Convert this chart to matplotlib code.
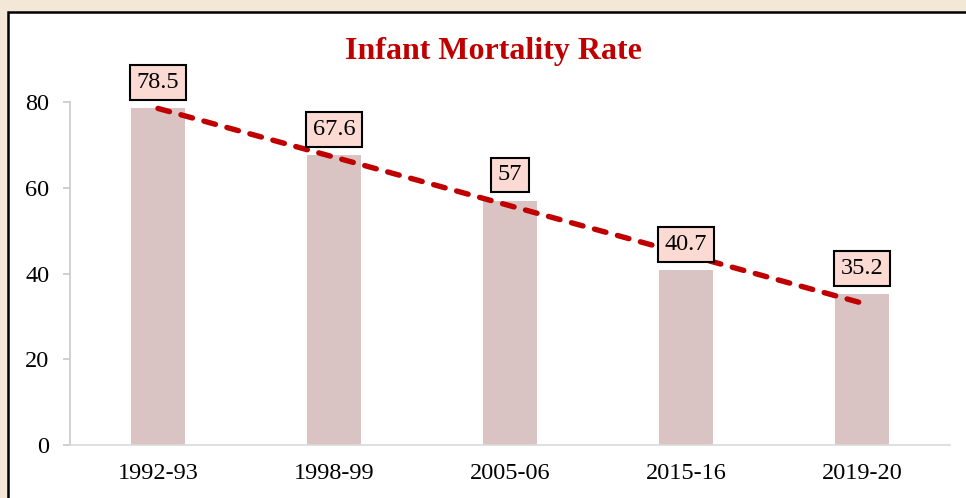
import numpy as np
import matplotlib
matplotlib.use("Agg")
import matplotlib.pyplot as plt
from matplotlib.patches import Rectangle

categories = ["1992-93", "1998-99", "2005-06", "2015-16", "2019-20"]
values = [78.5, 67.6, 57, 40.7, 35.2]
labels = ["78.5", "67.6", "57", "40.7", "35.2"]
yticks = [0, 20, 40, 60, 80]
title = "Infant Mortality Rate"

plt.rcParams['font.family'] = ['Liberation Serif', 'DejaVu Serif']

W, H = 966, 498
fig = plt.figure(figsize=(W / 100, H / 100), dpi=100, facecolor="#F3E7D8")

# white chart frame with black border
frame = Rectangle((8 / W, -0.05), 1.2, (H - 12) / H + 0.05, transform=fig.transFigure,
                  facecolor="white", edgecolor="black", linewidth=1.8, zorder=-10)
fig.patches.append(frame)

ax = fig.add_axes([70 / W, (H - 445) / H, 880 / W, (445 - 102) / H])
ax.set_facecolor("none")
ax.set_zorder(5)

x = np.arange(len(categories))
ax.bar(x, values, width=0.31, color="#D9C3C3", zorder=2)

# linear trend line
coef = np.polyfit(x, values, 1)
trend = np.polyval(coef, x)
ax.plot(x, trend, color="#C00000", lw=3.9, linestyle=(0, (2.2, 2.2)),
        dash_capstyle="round", zorder=3, clip_on=False)

for xi, v, lab in zip(x, values, labels):
    ax.annotate(lab, (xi, v), xytext=(0, 18.5), textcoords="offset points",
                ha="center", va="center", fontsize=17.5, color="black", zorder=4,
                bbox=dict(boxstyle="square,pad=0.28", facecolor="#FBDAD4",
                          edgecolor="black", linewidth=1.5))

ax.set_xlim(-0.5, len(categories) - 0.5)
ax.set_ylim(0, 80)
ax.set_yticks(yticks)
ax.set_yticklabels([str(t) for t in yticks], fontsize=17.5)
ax.set_xticks(x)
ax.set_xticklabels(categories, fontsize=17.5)

for s in ["top", "right"]:
    ax.spines[s].set_visible(False)
ax.spines["left"].set_color("#C8C8C8")
ax.spines["bottom"].set_color("#D9D9D9")
ax.spines["left"].set_linewidth(1.2)
ax.spines["bottom"].set_linewidth(1.2)
ax.tick_params(axis="y", length=5, width=1.2, color="#C8C8C8", pad=10)
ax.tick_params(axis="x", length=0, pad=13)

fig.text(493 / W, 1 - 52 / H, title, ha="center", va="center", fontsize=23,
         fontweight="bold", color="#C00000", zorder=6)

fig.savefig("out.png", dpi=100, facecolor=fig.get_facecolor())
